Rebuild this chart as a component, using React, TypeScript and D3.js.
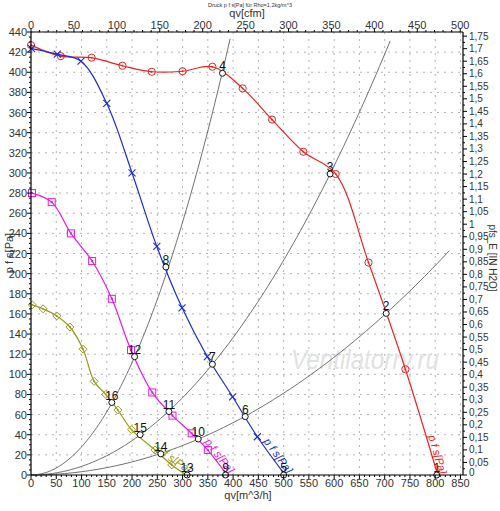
import React from "react";
import * as d3 from "d3";

// ---------- data ----------
const redCurve: [number, number][] = [
  [0, 427], [59, 416], [120, 414.5], [181, 406.5], [239, 400.5], [300, 401], [359, 405.5],
  [419, 384], [477, 353], [539, 321], [603, 299], [668, 211], [741, 105], [805, 0],
];
const blueCurve: [number, number][] = [
  [1, 423.5], [52, 418], [99, 411], [150, 369], [200, 300], [249, 227], [299, 166],
  [349, 117.5], [399, 77.7], [448, 38], [503, 0],
];
const magentaCurve: [number, number][] = [
  [2, 280], [41, 271], [79, 240], [121, 212.5], [160, 175], [198, 124], [240, 82],
  [280, 59], [318, 41.4], [350, 24.8], [388, 0],
];
const oliveCurve: [number, number][] = [
  [2.5, 169], [24, 165], [51, 158], [77, 147], [103, 125], [125, 93], [148, 80],
  [172, 64.5], [199, 45], [245.5, 24.8], [278.5, 10], [308, 0],
];
// system curves p = k*q^2 with end flow
const systemK = [0.00279, 0.000853, 0.000325];
const systemQmax = [394, 711, 828];

// operating points [q, p, label]
const opPoints: [number, number, string][] = [
  [803, 0, "1"], [703, 160.5, "2"], [592, 299, "3"], [379, 399, "4"],
  [500, 0, "5"], [424, 58, "6"], [359, 110, "7"], [267, 206.6, "8"],
  [385, 0, "9"], [331, 35.7, "10"], [273, 63, "11"], [205, 117.5, "12"],
  [309, 0, "13"], [257, 21, "14"], [216, 40, "15"], [160, 72, "16"],
];

const xTicks = d3.range(0, 851, 50);
const yTicks = d3.range(0, 441, 20);
const cfmTicks = d3.range(0, 501, 50);
const inTicks = d3.range(0, 1.7501, 0.05);

// ---------- layout ----------
const L = 31, R = 463, T = 32, B = 475;
const x = d3.scaleLinear().domain([0, 855]).range([L, R]);
const y = d3.scaleLinear().domain([0, 440]).range([B, T]);
const xCfm = d3.scaleLinear().domain([0, 855 / 1.699]).range([L, R]);
const yIn = d3.scaleLinear().domain([0, 440 / 249.09]).range([B, T]);

const lineGen = d3
  .line<[number, number]>()
  .x((d) => x(d[0]))
  .y((d) => y(d[1]))
  .curve(d3.curveCatmullRom.alpha(0.5));

const FONT = "Liberation Sans, Arial, sans-serif";
const fmtComma = (v: number) => String(Math.round(v * 100) / 100).replace(".", ",");

function Marker({ kind, cx, cy, color }: { kind: string; cx: number; cy: number; color: string }) {
  if (kind === "circle")
    return (
      <g>
        <circle cx={cx} cy={cy} r={3.6} fill="none" stroke={color} strokeWidth={1} />
        <circle cx={cx} cy={cy} r={0.9} fill={color} />
      </g>
    );
  if (kind === "x")
    return (
      <g stroke={color} strokeWidth={1.1}>
        <line x1={cx - 3.5} y1={cy - 3.5} x2={cx + 3.5} y2={cy + 3.5} />
        <line x1={cx - 3.5} y1={cy + 3.5} x2={cx + 3.5} y2={cy - 3.5} />
      </g>
    );
  if (kind === "square")
    return (
      <g>
        <rect x={cx - 3.5} y={cy - 3.5} width={7} height={7} fill="none" stroke={color} strokeWidth={1} />
        <rect x={cx - 1} y={cy - 1} width={2} height={2} fill={color} />
      </g>
    );
  return (
    <g>
      <path d={`M${cx},${cy - 4}L${cx + 4},${cy}L${cx},${cy + 4}L${cx - 4},${cy}Z`} fill="none" stroke={color} strokeWidth={1} />
      <circle cx={cx} cy={cy} r={0.9} fill={color} />
    </g>
  );
}

function CurveLabel({ data, color }: { data: [number, number][]; color: string }) {
  const n = data.length;
  const a = data[n - 2];
  const b = data[n - 1];
  const dx = x(b[0]) - x(a[0]);
  const dy = y(b[1]) - y(a[1]);
  const ang = (Math.atan2(dy, dx) * 180) / Math.PI;
  const len = Math.hypot(dx, dy);
  const ux = dx / len, uy = dy / len;
  const nx = uy, ny = -ux;
  const sx = x(b[0]) - ux * 40 + nx * 2;
  const sy = y(b[1]) - uy * 40 + ny * 2;
  return (
    <text
      transform={`translate(${sx},${sy}) rotate(${ang})`}
      fontSize={11}
      fontStyle="italic"
      fill={color}
      fontFamily={FONT}
    >
      p f s[Pa]
    </text>
  );
}

export default function App() {
  const fans = [
    { data: redCurve, color: "#ee2222", kind: "circle" },
    { data: blueCurve, color: "#1a2ed6", kind: "x" },
    { data: magentaCurve, color: "#e619e6", kind: "square" },
    { data: oliveCurve, color: "#9a9a1a", kind: "diamond" },
  ];
  const minorY = d3.range(0, 441, 5);
  const minorX = d3.range(0, 851, 10);
  const minorCfm = d3.range(0, 501, 10);
  const minorIn = d3.range(0, 1.7501, 0.025);

  return (
    <svg width={500} height={511} style={{ position: "absolute", left: 0, top: 0, background: "#fff" }} fontFamily={FONT}>
      <rect width={500} height={511} fill="#fff" />
      {/* grid */}
      <g stroke="#b4b4b4" strokeWidth={1} strokeDasharray="2,5">
        {xTicks.slice(1).map((t) => (
          <line key={"gx" + t} x1={x(t)} x2={x(t)} y1={T} y2={B} />
        ))}
        {yTicks.slice(1).map((t) => (
          <line key={"gy" + t} x1={L} x2={R} y1={y(t)} y2={y(t)} />
        ))}
      </g>
      {/* watermark */}
      <text x={291} y={369} fontSize={27} fontStyle="italic" fill="#e2e2e2" fontFamily={FONT}
        textLength={148} lengthAdjust="spacingAndGlyphs">
        Ventilatorry.ru
      </text>
      {/* system curves */}
      <g fill="none" stroke="#707070" strokeWidth={1}>
        {systemK.map((k, i) => {
          const pts: [number, number][] = d3.range(0, 101).map((j) => {
            const q = (systemQmax[i] * j) / 100;
            return [q, k * q * q];
          });
          return <path key={"s" + i} d={d3.line<[number, number]>().x((d) => x(d[0])).y((d) => y(d[1]))(pts) || ""} />;
        })}
      </g>
      {/* fan curves */}
      {fans.map((f, i) => (
        <g key={"f" + i}>
          <path d={lineGen(f.data) || ""} fill="none" stroke={f.color} strokeWidth={1.2} />
          {f.data.slice(0, -1).map((d, j) => (
            <Marker key={j} kind={f.kind} cx={x(d[0])} cy={y(d[1])} color={f.color} />
          ))}
          <CurveLabel data={f.data} color={f.color} />
        </g>
      ))}
      {/* operating points */}
      {opPoints.map(([q, p, lab]) => (
        <g key={"o" + lab}>
          <circle cx={x(q)} cy={y(p)} r={3} fill="#fff" stroke="#111" strokeWidth={1} />
          <text x={x(q)} y={y(p) - 3} fontSize={12} textAnchor="middle" fill="#111">
            {lab}
          </text>
        </g>
      ))}
      {/* frame */}
      <g stroke="#000" strokeWidth={1.2} fill="none">
        <line x1={L} x2={L} y1={T} y2={B} />
        <line x1={R} x2={R} y1={T} y2={B} />
        <line x1={L} x2={R} y1={T} y2={T} />
        <line x1={L} x2={R} y1={B} y2={B} />
      </g>
      {/* ticks */}
      <g stroke="#000" strokeWidth={1}>
        {minorY.map((t) => (
          <line key={"my" + t} x1={L - (t % 20 === 0 ? 4 : 2)} x2={L} y1={y(t)} y2={y(t)} />
        ))}
        {minorX.map((t) => (
          <line key={"mx" + t} x1={x(t)} x2={x(t)} y1={B} y2={B + (t % 50 === 0 ? 4 : 2)} />
        ))}
        {minorCfm.map((t) => (
          <line key={"mc" + t} x1={xCfm(t)} x2={xCfm(t)} y1={T} y2={T - (t % 50 === 0 ? 4 : 2)} />
        ))}
        {minorIn.map((t, i) => (
          <line key={"mi" + i} x1={R} x2={R + (i % 2 === 0 ? 4 : 2)} y1={yIn(t)} y2={yIn(t)} />
        ))}
      </g>
      {/* tick labels */}
      <g fontSize={11} fill="#333">
        {yTicks.map((t) => (
          <text key={"ly" + t} x={L - 4} y={y(t) + 4} textAnchor="end">
            {t}
          </text>
        ))}
        {xTicks.map((t) => (
          <text key={"lx" + t} x={x(t)} y={B + 12} textAnchor="middle">
            {t}
          </text>
        ))}
        {cfmTicks.map((t) => (
          <text key={"lc" + t} x={xCfm(t)} y={T - 3} textAnchor="middle">
            {t}
          </text>
        ))}
      </g>
      <g fontSize={10} fill="#333">
        {inTicks.map((t, i) => (
          <text key={"li" + i} x={R + 6} y={yIn(t) + (i === 0 ? 1 : 3.5)} textAnchor="start">
            {fmtComma(t)}
          </text>
        ))}
      </g>
      {/* titles */}
      <text x={250} y={6.5} fontSize={5.5} textAnchor="middle" fill="#333">
        Druck p f s[Pa] für Rho=1,2kg/m^3
      </text>
      <text x={247} y={17} fontSize={11} textAnchor="middle" fill="#333">
        qv[cfm]
      </text>
      <text x={248} y={499} fontSize={11} textAnchor="middle" fill="#333">
        qv[m^3/h]
      </text>
      <text transform="translate(13,253) rotate(-90)" fontSize={11} textAnchor="middle" fill="#333">
        p f s[Pa]
      </text>
      <text transform="translate(489,258) rotate(90)" fontSize={10} textAnchor="middle" fill="#333">
        pfs_E [IN H2O]
      </text>
    </svg>
  );
}
